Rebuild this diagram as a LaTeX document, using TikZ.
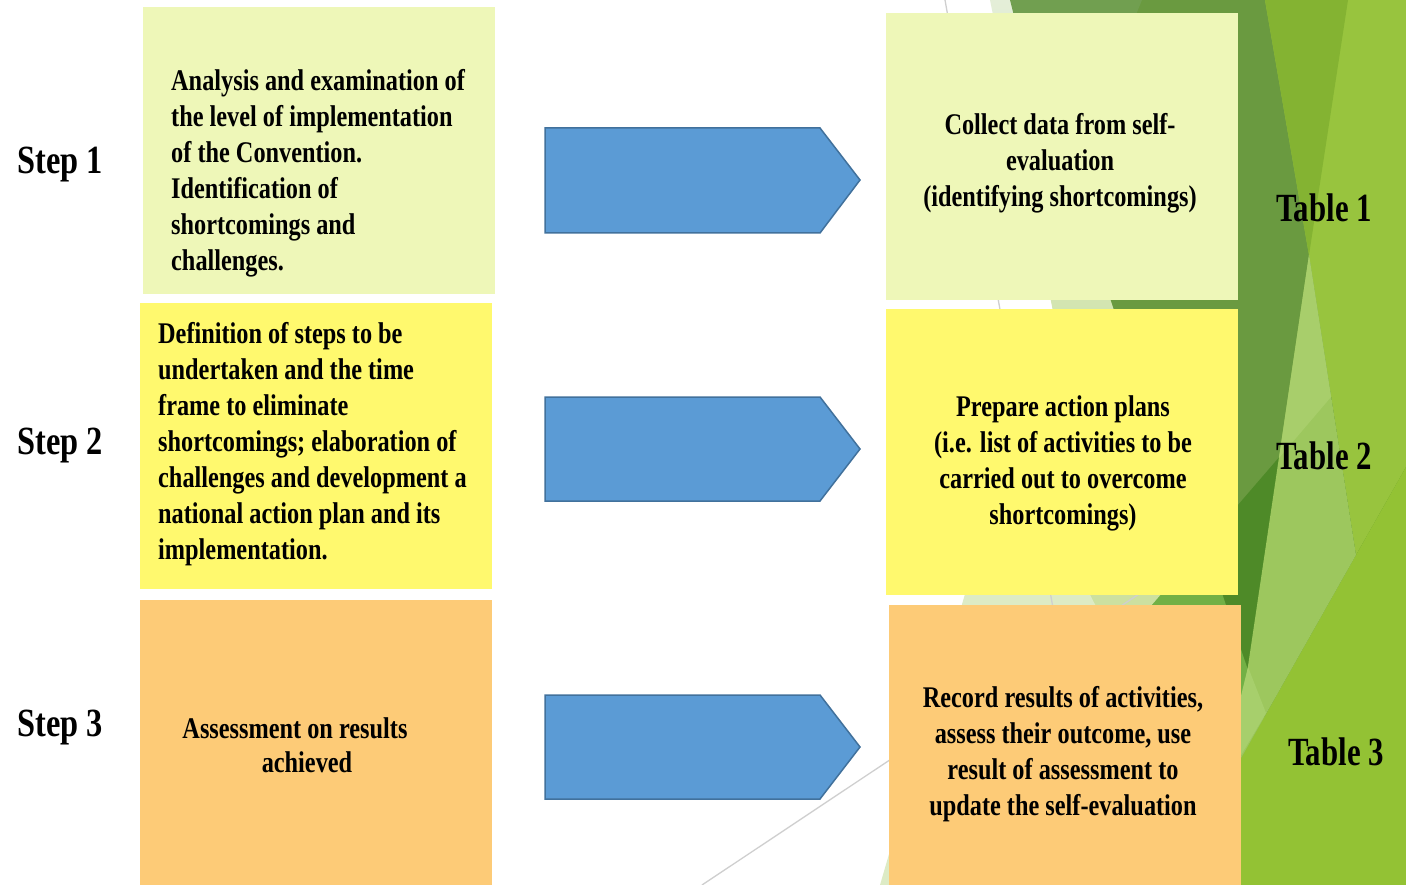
\documentclass[tikz,border=0pt]{standalone}
\usepackage{fontspec}
\setmainfont{Liberation Serif}[FakeStretch=0.81]
\newfontfamily\tabfont{Liberation Serif}[FakeStretch=0.77]
\definecolor{lightgreenbox}{HTML}{EEF7B8}
\definecolor{yellowbox}{HTML}{FFF96E}
\definecolor{orangebox}{HTML}{FDCB77}
\definecolor{arrowblue}{HTML}{5B9BD5}
\definecolor{arrowedge}{HTML}{41719C}
\definecolor{lineg}{HTML}{CFCFCF}
\definecolor{gdark}{HTML}{6A9A40}
\definecolor{gdarker}{HTML}{4E8A28}
\definecolor{gmid}{HTML}{72B045}
\definecolor{gmidtop}{HTML}{719F50}
\definecolor{golive}{HTML}{84B332}
\definecolor{gbright}{HTML}{98C43E}
\definecolor{gbright2}{HTML}{93C234}
\definecolor{gwedge}{HTML}{9DC75E}
\definecolor{gwedgeup}{HTML}{A8CE6B}
\definecolor{gwedgelow}{HTML}{A7CF6C}
\definecolor{gpaleA}{HTML}{E4EED8}
\definecolor{gpaleB}{HTML}{CCE2A2}
\definecolor{gpaleC}{HTML}{CCE0A0}
\definecolor{gpaleD}{HTML}{DDEBC5}
\begin{document}
\begin{tikzpicture}[x=1pt,y=-1pt,
  box/.style={draw=none, inner sep=0, outer sep=0, anchor=north west},
  bodytxt/.style={inner sep=0, font=\bfseries\fontsize{30}{36}\selectfont},
  steptxt/.style={inner sep=0, anchor=base west, font=\bfseries\fontsize{40}{48}\selectfont},
  tabtxt/.style={inner sep=0, anchor=base west, font=\tabfont\bfseries\fontsize{40}{48}\selectfont},
  blockarrow/.style={fill=arrowblue, draw=arrowedge, line width=1.5pt, line join=miter},
  grayline/.style={draw=lineg, line width=1.3pt}]
\useasboundingbox[fill=white] (0,0) rectangle (1406,885);
% ---- background facets ----
\fill[gdark] (1080,0) rectangle (1406,885);
\fill[gdarker] (1406,310) -- (1406,885) -- (1050,885) -- (1050,723) -- cycle;
\fill[gmid] (1205,543) -- (1275,750) -- (1275,885) -- (1050,885) -- (1050,723) -- cycle;
\fill[gbright] (1265,0) -- (1406,0) -- (1406,467) -- (1356,555) -- (1309,255) -- cycle;
\fill[gbright2] (1406,467) -- (1406,885) -- (1240,885) -- (1240,760) -- (1356,555) -- cycle;
\fill[golive] (1265,0) -- (1348,0) -- (1309,255) -- cycle;
\fill[gwedge] (1309,255) -- (1356,555) -- (1240,760) -- (1240,720) -- cycle;
\fill[gwedgeup] (1309,255) -- (1331,397) -- (1279,458) -- cycle;
\fill[gwedgelow] (1248,667) -- (1266,713) -- (1240,757) -- (1240,700) -- cycle;
\shade[top color=gpaleA, bottom color=gpaleB] (990,0) -- (1012,0) -- (1150,420) -- (1075,420) -- cycle;
\fill[gmidtop] (1010,0) -- (1142,0) -- (1060,200) -- cycle;
\fill[gpaleC] (1010,440) -- (1200,549) -- (1050,723) -- (980,700) -- cycle;
\fill[gpaleD] (880,885) -- (1010,440) -- (1240,885) -- cycle;
\coordinate (g1a) at (945,0);
\coordinate (g1b) at (1080,760);
\coordinate (g2a) at (702,885);
\coordinate (g2b) at (1160,580);
\draw[grayline] (g1a) -- (g1b);
\draw[grayline] (g2a) -- (g2b);
% ---- boxes ----
\node[box, fill=lightgreenbox, minimum width=352pt, minimum height=287pt] (L1) at (143,7) {};
\node[box, fill=yellowbox, minimum width=352pt, minimum height=286pt] (L2) at (140,303) {};
\node[box, fill=orangebox, minimum width=352pt, minimum height=285pt] (L3) at (140,600) {};
\node[box, fill=lightgreenbox, minimum width=352pt, minimum height=287pt] (R1) at (886,13) {};
\node[box, fill=yellowbox, minimum width=352pt, minimum height=286pt] (R2) at (886,309) {};
\node[box, fill=orangebox, minimum width=352pt, minimum height=280pt] (R3) at (889,605) {};
% ---- block arrows ----
\draw[blockarrow] (545,128) -- (820,128) -- (860,180) -- (820,233) -- (545,233) -- cycle;
\draw[blockarrow] (545,397) -- (820,397) -- (860,449) -- (820,501) -- (545,501) -- cycle;
\draw[blockarrow] (545,695) -- (820,695) -- (860,747) -- (820,799) -- (545,799) -- cycle;
% ---- step labels ----
\node[steptxt] (s1) at (17,173.3) {Step 1};
\node[steptxt] (s2) at (17,454.5) {Step 2};
\node[steptxt] (s3) at (17,736.5) {Step 3};
% ---- table labels ----
\node[tabtxt] (tb1) at (1276,221.5) {Table 1};
\node[tabtxt] (tb2) at (1276,469) {Table 2};
\node[tabtxt] (tb3) at (1288,765) {Table 3};
% ---- box texts ----
\node[bodytxt, align=left, anchor=west] (t1) at (171,173.6) {Analysis and examination of\\the level of implementation\\of the Convention.\\Identification of\\shortcomings and\\challenges.};
\node[bodytxt, align=left, anchor=west] (t2) at (158,443.9) {Definition of steps to be\\undertaken and the time\\frame to eliminate\\shortcomings; elaboration of\\challenges and development a\\national action plan and its\\implementation.};
\node[bodytxt, align=center] (t3) at (307,745) {Assessment on results\hspace*{24pt}\\[-2pt]achieved};
\node[bodytxt, align=center] (r1) at (1060,163.6) {Collect data from self-\\evaluation\\(identifying shortcomings)};
\node[bodytxt, align=center] (r2) at (1063,463.7) {Prepare action plans\\(i.e. list of activities to be\\carried out to overcome\\shortcomings)};
\node[bodytxt, align=center] (r3) at (1063,753.7) {Record results of activities,\\assess their outcome, use\\result of assessment to\\update the self-evaluation};
\end{tikzpicture}
\end{document}
